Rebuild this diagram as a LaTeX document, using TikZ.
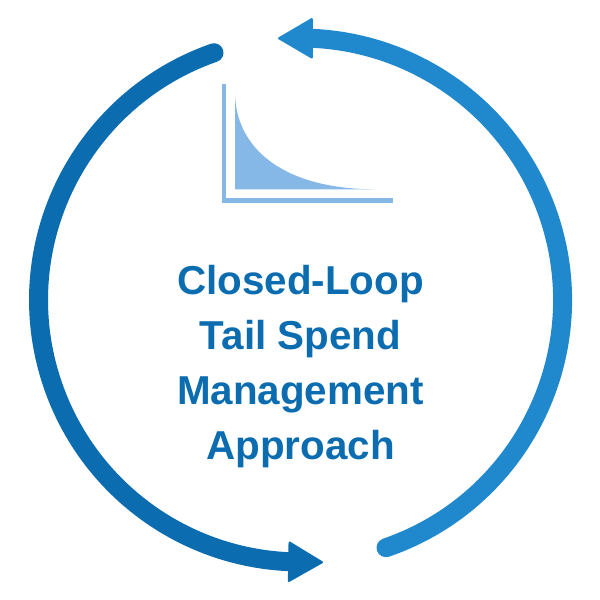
\documentclass[tikz,border=0pt]{standalone}
\usepackage{xcolor}
\usepackage{fontspec}
\setmainfont{Liberation Sans}
\usetikzlibrary{arrows.meta,positioning,calc}

\definecolor{loopdark}{HTML}{0B6CB0}
\definecolor{looplight}{HTML}{2088CC}
\definecolor{chartpale}{HTML}{85B8E6}

\begin{document}
\begin{tikzpicture}[x=0.025cm, y=-0.025cm,
    looparc/.style={line width=13.5pt, line cap=round},
    loophead/.style={-{Triangle[length=25.5pt, width=29.5pt, round, line width=1.5pt]}, line width=13.5pt},
    title/.style={align=center, font=\fontsize{28.7}{39.1}\selectfont\bfseries, text=loopdark}]

\useasboundingbox (0,0) rectangle (600,600);

% Loop ends positioned with absolute coordinates
\coordinate (hub) at (300.5,300);
\coordinate (darkstart) at (214,52.7);
\coordinate (darkbase) at (288,561.7);
\coordinate (darktip) at (323,562.3);
\coordinate (lightstart) at (386,547.7);
\coordinate (lightbase) at (313,38.3);
\coordinate (lighttip) at (278,38.3);

% Left arc, running down to the bottom
\draw[looparc, loopdark] (darkstart) arc[start angle=-109.3, end angle=-267.3, radius=262];
\draw[loophead, loopdark] (darkbase) -- (darktip);

% Right arc, running up to the top
\draw[looparc, looplight] (lightstart) arc[start angle=70.96, end angle=-87.3, radius=262];
\draw[loophead, looplight] (lightbase) -- (lighttip);

% Chart
\fill[chartpale] (235,95) .. controls (237,150) and (285,189) .. (375,189.3) -- (235,189.3) -- cycle;
\draw[chartpale, line width=3pt] (224,84) -- (224,200.6) -- (393,200.6);

\node[title] (label) at (300.5,367) {Closed-Loop\\Tail Spend\\Management\\Approach};

\end{tikzpicture}
\end{document}
